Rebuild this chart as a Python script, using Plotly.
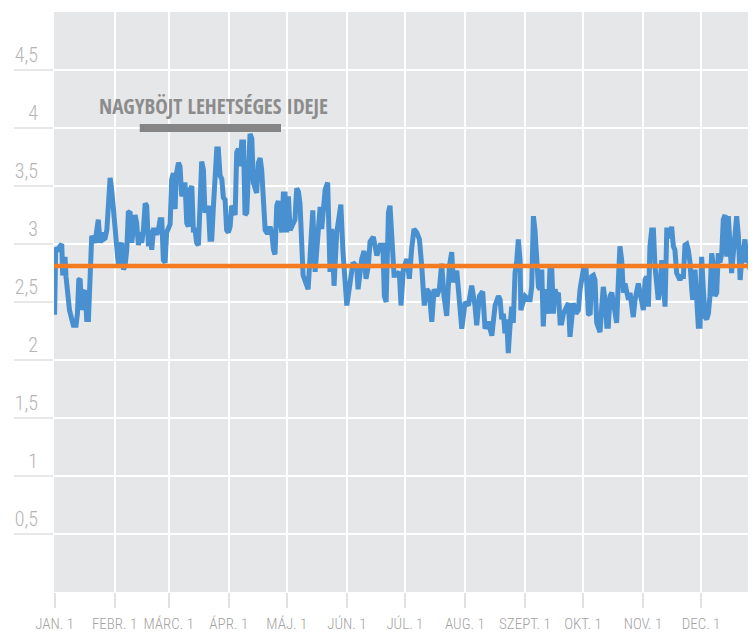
import plotly.graph_objects as go

# ---- data ----
month_days = [0, 31, 59, 90, 120, 151, 181, 212, 243, 273, 304, 334]
month_labels = ["JAN. 1", "FEBR. 1", "MÁRC. 1", "ÁPR. 1", "MÁJ. 1", "JÚN. 1",
                "JÚL. 1", "AUG. 1", "SZEPT. 1", "OKT. 1", "NOV. 1", "DEC. 1"]
y_ticks = [0.5, 1, 1.5, 2, 2.5, 3, 3.5, 4, 4.5]
y_labels = ["0,5", "1", "1,5", "2", "2,5", "3", "3,5", "4", "4,5"]

days_jan_mar = [0, 0.6, 1.5, 2.5, 3.7, 4.2, 5.4, 5.9, 7.1, 7.7, 8.9, 9.7, 11.1, 11.8, 12.5,
                13.2, 14.0, 14.9, 15.8, 16.6, 17.5, 18.3, 19.2, 20.1, 20.9, 21.8, 22.6, 23.5,
                24.4, 25.2, 26.1, 27.0, 27.8, 28.7, 29.5, 30.4, 31.3, 32.1, 33.0, 33.8, 34.7,
                35.6, 36.4, 37.3, 38.1, 39.0, 39.9, 40.7, 41.6, 42.4, 43.3, 44.2, 45.0, 45.9,
                46.8, 47.6, 48.5, 49.3, 50.2, 51.1, 51.9, 52.8, 53.6, 54.5, 55.4, 56.2, 57.1,
                57.9, 58.8, 59.7, 60.5, 61.4, 62.3, 62.8, 64.0, 64.8, 65.7, 66.6, 67.4, 68.3, 69.1]
vals_jan_mar = [2.39, 2.97, 2.95, 2.97, 3.00, 2.73, 2.89, 2.72, 2.46, 2.43, 2.35, 2.30, 2.30, 2.40,
                2.69, 2.70, 2.43, 2.58, 2.60, 2.35, 2.35, 2.78, 3.07, 3.04, 3.01, 3.12, 3.21, 3.01,
                3.10, 3.04, 3.05, 3.12, 3.41, 3.57, 3.47, 3.27, 3.10, 2.92, 2.81, 2.98, 3.01, 2.78,
                2.81, 2.95, 3.27, 3.28, 3.01, 3.15, 3.25, 3.18, 2.99, 3.10, 3.01, 3.12, 3.35, 3.33,
                2.98, 3.12, 2.95, 3.12, 3.12, 3.08, 3.12, 3.21, 3.21, 2.86, 2.84, 3.10, 3.15, 3.17,
                3.56, 3.61, 3.30, 3.59, 3.70, 3.67, 3.41, 3.50, 3.53, 3.18, 3.15]

days_mar_may = [70.0, 70.9, 71.7, 72.6, 73.4, 74.3, 75.2, 76.0, 76.9, 77.7, 78.6, 79.5, 80.3, 81.2,
                82.1, 82.9, 83.8, 84.6, 85.5, 86.4, 87.2, 88.1, 88.9, 89.8, 90.7, 91.5, 92.4, 93.3,
                94.1, 95.0, 95.8, 96.7, 97.6, 98.4, 99.3, 100.1, 101.0, 101.9, 102.7, 103.6, 104.4,
                105.3, 106.2, 107.0, 107.9, 108.8, 109.6, 110.5, 111.3, 112.2, 113.1, 113.9, 114.8,
                115.6, 116.5, 117.4, 118.2, 119.1, 119.9, 120.8, 121.7, 122.5, 123.4, 124.2, 125.1,
                126.0, 126.8]
vals_mar_may = [3.47, 3.50, 3.12, 3.12, 3.01, 2.99, 3.35, 3.71, 3.64, 3.27, 3.31, 3.31, 3.04, 3.04,
                3.33, 3.64, 3.82, 3.82, 3.59, 3.56, 3.40, 3.38, 3.12, 3.10, 3.15, 3.33, 3.27, 3.25,
                3.79, 3.82, 3.67, 3.88, 3.88, 3.25, 3.27, 3.53, 3.95, 3.91, 3.53, 3.48, 3.44, 3.70,
                3.74, 3.64, 3.27, 3.12, 3.10, 3.10, 3.15, 3.10, 2.95, 2.91, 3.33, 3.37, 3.21, 3.10,
                3.43, 3.43, 3.10, 3.41, 3.12, 3.15, 3.18, 3.21, 3.48, 3.45, 3.35]

days_may_aug = [128.4, 131.0, 133.4, 134.6, 137.2, 138.0, 139.8, 141.1, 142.3, 143.2, 144.4, 145.8,
                147.9, 149.0, 151.0, 152.7, 154.2, 156.1, 156.8, 158.7, 159.9, 160.9, 162.1, 163.0,
                164.7, 166.5, 168.2, 169.6, 170.4, 171.3, 172.5, 173.3, 174.7, 175.4, 176.8, 178.1,
                179.0, 180.2, 182.0, 183.3, 184.5, 185.7, 187.1, 188.5, 189.7, 191.0, 192.3, 193.6,
                194.9, 196.1, 197.5, 198.8, 200.0, 201.2, 202.6, 204.0, 205.2, 206.0, 207.8, 209.5,
                210.4, 212.1, 213.8, 215.5, 217.2, 218.1, 219.5, 221.2, 222.4, 224.1, 225.9, 227.6,
                229.3]
vals_may_aug = [2.73, 2.61, 3.29, 2.76, 3.32, 3.13, 3.47, 3.53, 2.76, 3.13, 2.64, 3.10, 3.34, 2.93,
                2.47, 2.67, 2.84, 2.81, 2.61, 2.87, 2.94, 2.70, 2.81, 3.02, 3.06, 2.90, 2.99, 2.99,
                2.55, 2.50, 3.27, 3.33, 3.01, 2.73, 2.73, 2.76, 2.47, 2.78, 2.87, 2.70, 2.96, 3.13,
                3.10, 3.04, 2.81, 2.47, 2.61, 2.58, 2.33, 2.61, 2.55, 2.61, 2.83, 2.55, 2.38, 2.81,
                2.93, 2.67, 2.77, 2.47, 2.27, 2.50, 2.47, 2.64, 2.47, 2.30, 2.55, 2.59, 2.27, 2.33,
                2.21, 2.47, 2.55]

days_aug_dec = [230.2, 231.0, 231.9, 232.7, 233.6, 234.4, 235.3, 236.2, 237.0, 237.9,
                238.8, 239.6, 240.5, 240.9, 241.9, 243.1, 244.8, 245.7, 246.5, 247.4,
                248.2, 249.1, 250.0, 250.8, 251.7, 252.5, 253.4, 254.3, 255.1, 256.0,
                256.9, 257.7, 258.6, 259.4, 260.3, 261.2, 262.0, 262.9, 264.6, 265.5,
                266.3, 267.2, 268.0, 269.4, 270.6, 271.5, 272.4, 273.2, 274.6, 275.3,
                275.8, 276.7, 277.5, 278.4, 279.2, 280.1, 280.9, 281.8, 282.7, 283.5,
                284.4, 285.3, 286.1, 287.0, 287.9, 288.7, 289.6, 290.4, 291.3, 292.1,
                293.0, 293.9, 294.7, 295.6, 296.5, 297.3, 298.2, 299.0, 299.9, 300.8,
                301.6, 302.5, 303.3, 304.2, 305.1, 305.9, 306.8, 307.6, 308.5, 309.4,
                310.2, 311.1, 311.9, 312.8, 313.7, 314.5, 315.4, 316.3, 317.1, 318.0,
                318.8, 319.7, 320.5, 321.4, 323.1, 324.0, 324.9, 325.7, 326.6, 327.4,
                328.3, 329.2, 329.7, 330.9, 331.8, 332.6, 333.5, 334.3, 335.2, 336.1,
                336.9, 337.8, 338.6, 339.5, 340.4, 341.2, 342.1, 342.9, 343.8, 344.7,
                345.5, 346.4, 347.3, 348.1, 349.0, 349.8, 350.7, 351.6, 352.4, 353.3,
                354.2, 355.0, 355.9, 356.7, 357.6, 358.4, 359.3, 360.2, 361.0, 361.9]
vals_aug_dec = [2.52, 2.35, 2.40, 2.23, 2.35, 2.06, 2.29, 2.46, 2.32, 2.75,
                2.86, 3.04, 2.86, 2.43, 2.49, 2.55, 2.52, 2.52, 2.63, 3.24,
                3.12, 2.81, 2.63, 2.61, 2.78, 2.29, 2.61, 2.49, 2.40, 2.81,
                2.78, 2.40, 2.61, 2.55, 2.58, 2.32, 2.32, 2.40, 2.46, 2.49,
                2.20, 2.40, 2.49, 2.40, 2.43, 2.61, 2.72, 2.78, 2.78, 2.55,
                2.40, 2.39, 2.72, 2.73, 2.69, 2.32, 2.26, 2.24, 2.46, 2.63,
                2.52, 2.29, 2.29, 2.55, 2.58, 2.49, 2.43, 2.32, 2.69, 2.98,
                2.86, 2.58, 2.66, 2.58, 2.52, 2.58, 2.46, 2.37, 2.52, 2.61,
                2.66, 2.58, 2.52, 2.43, 2.69, 2.72, 2.46, 2.98, 3.12, 3.12,
                2.81, 2.58, 2.52, 2.61, 2.86, 2.66, 2.46, 3.12, 3.12, 3.05,
                3.15, 2.98, 2.95, 2.75, 2.69, 2.72, 2.72, 2.99, 3.00, 2.95,
                2.84, 2.61, 2.52, 2.78, 2.46, 2.29, 2.29, 2.89, 2.61, 2.37,
                2.35, 2.40, 2.55, 2.92, 2.81, 2.55, 2.58, 2.92, 2.84, 2.92,
                3.21, 3.25, 2.89, 3.24, 2.98, 2.75, 2.92, 3.15, 3.24, 3.07,
                2.69, 2.86, 2.98, 3.04, 2.84, 2.92, 2.78, 2.98, 2.86, 2.81]

average_value = 2.81
lent_days = [44, 117]
lent_level = 4.0
lent_label = "NAGYBÖJT LEHETSÉGES IDEJE"
lent_label_pos = [82, 4.19]
x_range = [-0.3, 362.4]

days = days_jan_mar + days_mar_may + days_may_aug + days_aug_dec
vals = vals_jan_mar + vals_mar_may + vals_may_aug + vals_aug_dec
assert len(days) == len(vals)

TICK_FONT = "'Roboto Condensed', 'DejaVu Sans Condensed', sans-serif"
TITLE_FONT = "'Open Sans Condensed', 'Roboto Condensed', sans-serif"

fig = go.Figure()
fig.add_trace(go.Scatter(x=days, y=vals, mode="lines",
                         line=dict(color="#4890d0", width=5), hoverinfo="skip"))
fig.add_trace(go.Scatter(x=x_range, y=[average_value, average_value], mode="lines",
                         line=dict(color="#f47b20", width=4.5), hoverinfo="skip"))
fig.add_trace(go.Scatter(x=lent_days, y=[lent_level, lent_level], mode="lines",
                         line=dict(color="#858585", width=8), hoverinfo="skip"))

fig.add_annotation(x=lent_label_pos[0], y=lent_label_pos[1], text=f"<b>{lent_label}</b>",
                   showarrow=False, font=dict(family=TITLE_FONT, size=21, color="#8c8c8c"))

# the page body has an 8px margin, so the figure is offset 8px inside the window
fig.update_layout(
    width=748, height=626,
    margin=dict(l=46, r=0, t=4, b=42),
    paper_bgcolor="white", plot_bgcolor="#e6e7e9",
    showlegend=False,
    xaxis=dict(range=x_range, tickvals=month_days, ticktext=month_labels,
               showgrid=True, gridcolor="white", gridwidth=1.5,
               ticks="outside", ticklen=15, tickcolor="#e2e2e2", tickwidth=1.5,
               ticklabelstandoff=3, automargin=False,
               zeroline=False, showline=False,
               tickfont=dict(family=TICK_FONT, size=15, color="#a3a3a3", weight=300)),
    yaxis=dict(range=[0, 5], tickvals=y_ticks, ticktext=y_labels,
               showgrid=True, gridcolor="white", gridwidth=2,
               ticks="outside", ticklen=39, tickcolor="#e8e8e8", tickwidth=2,
               ticklabelposition="outside top", ticklabelstandoff=11, automargin=False,
               zeroline=False, showline=False,
               tickfont=dict(family=TICK_FONT, size=20, color="#b5b5b5", weight=300)),
)

fig.write_html("out.html")
